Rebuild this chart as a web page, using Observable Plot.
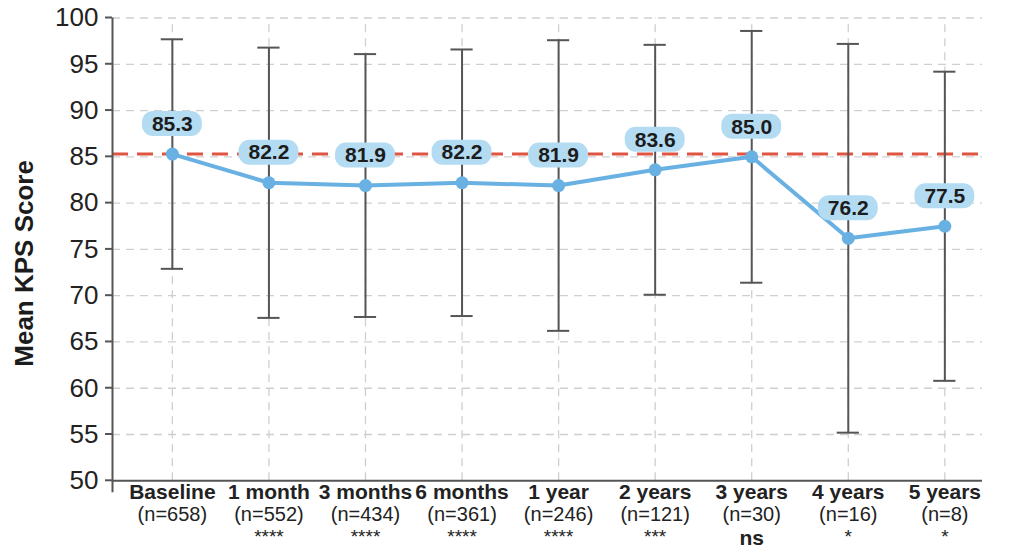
<!DOCTYPE html>
<html>
<head>
<meta charset="utf-8">
<script src="https://cdn.jsdelivr.net/npm/d3@7"></script>
<script src="https://cdn.jsdelivr.net/npm/@observablehq/plot@0.6"></script>
<style>
  html, body { margin: 0; padding: 0; background: #fff; }
  #chart svg { display: block; }
</style>
</head>
<body>
<div id="chart"></div>
<script>
// ---- data ----
const categories = ["Baseline", "1 month", "3 months", "6 months", "1 year", "2 years", "3 years", "4 years", "5 years"];
const nLabels = ["(n=658)", "(n=552)", "(n=434)", "(n=361)", "(n=246)", "(n=121)", "(n=30)", "(n=16)", "(n=8)"];
const sigLabels = ["", "****", "****", "****", "****", "***", "ns", "*", "*"];
const means = [85.3, 82.2, 81.9, 82.2, 81.9, 83.6, 85.0, 76.2, 77.5];
const upper = [97.7, 96.8, 96.1, 96.6, 97.6, 97.1, 98.6, 97.2, 94.2];
const lower = [72.9, 67.6, 67.7, 67.8, 66.2, 70.1, 71.4, 55.2, 60.8];
const baselineRef = 85.3;
const yTicks = [50, 55, 60, 65, 70, 75, 80, 85, 90, 95, 100];

const data = categories.map((c, i) => ({
  i, cat: c, n: nLabels[i], sig: sigLabels[i], mean: means[i], lo: lower[i], hi: upper[i]
}));

const xDomain = [-0.62, 8.39];
const font = "'Liberation Sans', Arial, Helvetica, sans-serif";
const gridStyle = { stroke: "#cfcfcf", strokeWidth: 1.3, strokeDasharray: "8,6" };
const axisColor = "#555";

const chart = Plot.plot({
  width: 1024,
  height: 559,
  marginLeft: 112,
  marginRight: 42,
  marginTop: 17.5,
  marginBottom: 78.7,
  style: { fontFamily: font, background: "#fff", overflow: "visible" },
  x: { domain: xDomain, axis: null },
  y: { domain: [50, 100], axis: null },
  marks: [
    // grid
    Plot.ruleY(yTicks.filter(t => t > 50), { ...gridStyle }),
    Plot.ruleX(data, { x: "i", y1: 50, y2: 100, ...gridStyle }),
    // baseline reference
    Plot.ruleY([baselineRef], { stroke: "#e05542", strokeWidth: 3, strokeDasharray: "16,9" }),
    // error bars
    Plot.ruleX(data, { x: "i", y1: "lo", y2: "hi", stroke: "#555", strokeWidth: 2 }),
    Plot.ruleY(data, { y: "hi", x1: d => d.i - 0.115, x2: d => d.i + 0.115, stroke: "#555", strokeWidth: 2 }),
    Plot.ruleY(data, { y: "lo", x1: d => d.i - 0.115, x2: d => d.i + 0.115, stroke: "#555", strokeWidth: 2 }),
    // mean line and points
    Plot.line(data, { x: "i", y: "mean", stroke: "#68b1e2", strokeWidth: 4 }),
    Plot.dot(data, { x: "i", y: "mean", r: 6.5, fill: "#68b1e2", stroke: "none" }),
    // value labels
    Plot.rect(data, {
      x1: d => d.i - 0.31, x2: d => d.i + 0.31, y1: "mean", y2: "mean",
      insetTop: -12.5, insetBottom: -12.5, dy: -30, rx: 11, fill: "#b3dbf2"
    }),
    Plot.text(data, {
      x: "i", y: "mean", dy: -30, text: d => d.mean.toFixed(1),
      fontWeight: "bold", fontSize: 21, fill: "#1c1c1c"
    }),
    // axes
    Plot.ruleY([50], { stroke: axisColor, strokeWidth: 2 }),
    Plot.ruleX([xDomain[0]], { y1: 100, y2: 50, insetBottom: -12, stroke: axisColor, strokeWidth: 2 }),
    Plot.text(yTicks, {
      y: d => d, frameAnchor: "left", dx: -14, textAnchor: "end", text: d => String(d),
      fontSize: 26, fill: "#222"
    }),
    // category labels
    Plot.text(data, { x: "i", frameAnchor: "bottom", dy: 18, text: "cat", fontWeight: "bold", fontSize: 21, fill: "#222" }),
    Plot.text(data, { x: "i", frameAnchor: "bottom", dy: 40, text: "n", fontSize: 20, fill: "#222" }),
    Plot.text(data.filter(d => d.sig !== "ns"), { x: "i", frameAnchor: "bottom", dy: 62, text: "sig", fontSize: 19, fill: "#222" }),
    Plot.text(data.filter(d => d.sig === "ns"), { x: "i", frameAnchor: "bottom", dy: 64, text: "sig", fontWeight: "bold", fontSize: 21, fill: "#222" }),
    // y title
    Plot.text(["Mean KPS Score"], {
      frameAnchor: "left", textAnchor: "middle", dx: -88, dy: 14, rotate: -90, text: d => d,
      fontWeight: "bold", fontSize: 26, fill: "#1c1c1c"
    })
  ]
});

// y-axis tick marks (short strokes left of the axis), placed with the plot's own y scale
const yScale = chart.scale("y");
d3.select(chart).append("g").attr("stroke", axisColor).attr("stroke-width", 2)
  .selectAll("line").data(yTicks).join("line")
  .attr("x1", 105).attr("x2", 112)
  .attr("y1", d => yScale.apply(d)).attr("y2", d => yScale.apply(d));

document.getElementById("chart").appendChild(chart);
</script>
</body>
</html>
